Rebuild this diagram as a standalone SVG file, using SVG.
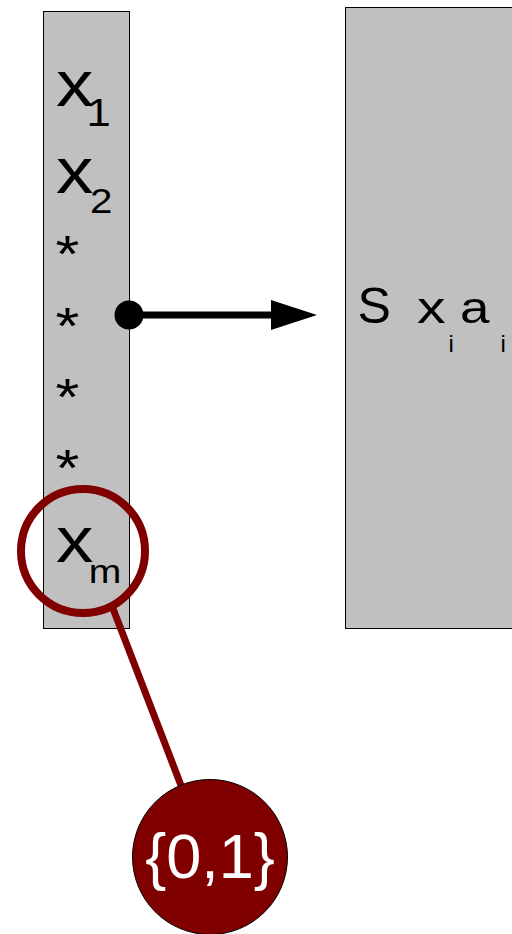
<svg xmlns="http://www.w3.org/2000/svg" width="512" height="934" viewBox="0 0 512 934">
<style>
.box{fill:#c0c0c0;stroke:#000;stroke-width:1}
.t{font-family:"Liberation Sans",Arial,sans-serif;fill:#000}
.w{font-family:"Liberation Sans",Arial,sans-serif;fill:#fff}
</style>
<g id="vector">
<rect class="box" x="43.5" y="11.5" width="86" height="617"/>
<text class="t" font-size="65" transform="translate(56,106) scale(1.15,1)">x<tspan font-size="38" dx="-6" dy="20">1</tspan></text>
<text class="t" font-size="65" transform="translate(56,193) scale(1.15,1)">x<tspan font-size="35" dx="-3" dy="20">2</tspan></text>
<text class="t" font-size="52" transform="translate(55.5,272) scale(1.18,1)">*</text>
<text class="t" font-size="52" transform="translate(55.5,344) scale(1.18,1)">*</text>
<text class="t" font-size="52" transform="translate(55.5,415) scale(1.18,1)">*</text>
<text class="t" font-size="52" transform="translate(55.5,486) scale(1.18,1)">*</text>
<text class="t" font-size="65" transform="translate(56,562) scale(1.15,1)">x<tspan font-size="34" dx="-4" dy="21">m</tspan></text>
</g>
<g id="sum">
<rect class="box" x="345.5" y="7.5" width="180" height="621"/>
<text class="t" font-size="50" x="357.5" y="323">S</text>
<text class="t" font-size="44" transform="translate(417,323) scale(1.3,1)">x</text>
<text class="t" font-size="24" x="448.5" y="352">i</text>
<text class="t" font-size="44" transform="translate(460,323) scale(1.2,1)">a</text>
<text class="t" font-size="24" x="500.5" y="352">i</text>
</g>
<g id="connectors">
<line x1="112" y1="606" x2="182" y2="788" stroke="#800000" stroke-width="7"/>
<line x1="129" y1="315" x2="272" y2="315" stroke="#000" stroke-width="7"/>
<path d="M271,300 L317,315 L271,330 Z" fill="#000"/>
<circle cx="129" cy="315" r="14.5" fill="#000"/>
</g>
<g id="highlight">
<circle cx="83" cy="551" r="62" fill="none" stroke="#800000" stroke-width="8"/>
</g>
<g id="domain">
<circle cx="210" cy="857" r="77.5" fill="#800000" stroke="#000" stroke-width="1"/>
<text class="w" font-size="63" x="210" y="878" text-anchor="middle">{0,1}</text>
</g>
</svg>
